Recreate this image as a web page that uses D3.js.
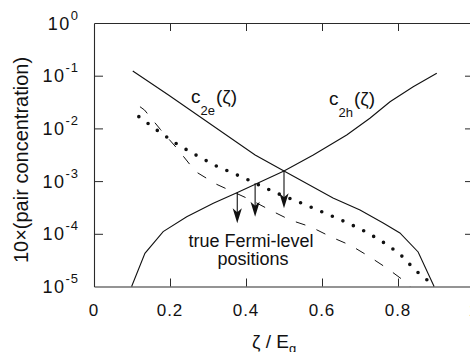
<!DOCTYPE html>
<html>
<head>
<meta charset="utf-8">
<script src="https://cdn.jsdelivr.net/npm/d3@7/dist/d3.min.js"></script>
<style>
  html, body { margin: 0; padding: 0; background: #fff; }
  svg { display: block; font-family: "Liberation Sans", Arial, Helvetica, sans-serif; }
</style>
</head>
<body>
<svg id="chart" width="470" height="352"></svg>
<script>
// ---- data ----
const xTickValues = [0, 0.2, 0.4, 0.6, 0.8, 1];
const xTickLabels = ["0", "0.2", "0.4", "0.6", "0.8", "1"];
const yTickValues = [1, 1e-1, 1e-2, 1e-3, 1e-4, 1e-5];
const yTickExponents = ["0", "-1", "-2", "-3", "-4", "-5"];

// c_2e(zeta)
const c2eZeta = [0.102, 0.196, 0.424, 0.500, 0.629, 0.700, 0.761, 0.805, 0.853, 0.895];
const c2eVal  = [1.23e-1, 4.3e-2, 3.13e-3, 1.55e-3, 4.78e-4, 2.83e-4, 1.6e-4, 1.04e-4, 4.52e-5, 1.0e-5];

// c_2h(zeta)
const c2hZeta = [0.099, 0.134, 0.182, 0.244, 0.314, 0.376, 0.500, 0.577, 0.665, 0.726, 0.779, 0.840, 0.902];
const c2hVal  = [1.0e-5, 4.27e-5, 1.1e-4, 2.11e-4, 3.79e-4, 6.03e-4, 1.55e-3, 3.13e-3, 7.5e-3, 1.56e-2, 3.21e-2, 6.18e-2, 1.11e-1];

// dotted curve
const dotZeta = [0.118, 0.169, 0.219, 0.268, 0.320, 0.397, 0.474, 0.547, 0.599, 0.650, 0.703, 0.753, 0.803, 0.847, 0.892];
const dotVal  = [1.67e-2, 8.9e-3, 4.99e-3, 3.13e-3, 1.96e-3, 1.13e-3, 6.2e-4, 3.79e-4, 2.62e-4, 1.83e-4, 1.22e-4, 7.6e-5, 4.27e-5, 2.0e-5, 1.07e-5];

// dashed curve
const dashZeta = [0.121, 0.133, 0.175, 0.220, 0.267, 0.321, 0.413, 0.463, 0.516, 0.571, 0.624, 0.676, 0.724, 0.772, 0.822, 0.832];
const dashVal  = [2.58e-2, 2.23e-2, 9.5e-3, 4.06e-3, 1.52e-3, 8.8e-4, 4.38e-4, 2.83e-4, 1.83e-4, 1.35e-4, 8.7e-5, 6.0e-5, 3.71e-5, 2.2e-5, 1.19e-5, 1.0e-5];

// "true Fermi-level positions" arrows
const arrowZeta = [0.377, 0.424, 0.500];
const arrowFrom = [6.03e-4, 9.1e-4, 1.55e-3];
const arrowTo   = [1.58e-4, 2.11e-4, 3.05e-4];

// ---- layout ----
const svg = d3.select("#chart");
const x = d3.scaleLinear().domain([0, 1]).range([94, 474]);
const y = d3.scaleLog().domain([1e-5, 1]).range([286.5, 23]);

const frameColor = "#2a2a2a";
const ink = "#111";

// axes (ticks inward)
const gB = svg.append("g").attr("transform", `translate(0,${y(1e-5)})`)
  .call(d3.axisBottom(x).tickValues([0.2, 0.4, 0.6, 0.8]).tickSizeInner(-8).tickSizeOuter(0).tickFormat(""));
const gT = svg.append("g").attr("transform", `translate(0,${y(1)})`)
  .call(d3.axisTop(x).tickValues([0.2, 0.4, 0.6, 0.8]).tickSizeInner(-8).tickSizeOuter(0).tickFormat(""));
const gL = svg.append("g").attr("transform", `translate(${x(0)},0)`)
  .call(d3.axisLeft(y).tickValues([1e-1, 1e-2, 1e-3, 1e-4]).tickSizeInner(-9).tickSizeOuter(0).tickFormat(""));
const gR = svg.append("g").attr("transform", `translate(${x(1)},0)`)
  .call(d3.axisRight(y).tickValues([1e-1, 1e-2, 1e-3, 1e-4]).tickSizeInner(-9).tickSizeOuter(0).tickFormat(""));
[gB, gT, gL, gR].forEach(g => {
  g.selectAll("path.domain").attr("stroke", frameColor).attr("stroke-width", 1.1);
  g.selectAll(".tick line").attr("stroke", frameColor).attr("stroke-width", 1);
});

// x tick labels
svg.append("g").selectAll("text").data(xTickValues).join("text")
  .attr("x", d => x(d))
  .attr("y", 316)
  .attr("text-anchor", "middle")
  .attr("font-size", 17)
  .attr("letter-spacing", 1)
  .attr("fill", ink)
  .text((d, i) => xTickLabels[i]);

// y tick labels: 10^n
const yl = svg.append("g").selectAll("text").data(yTickValues).join("text")
  .attr("x", 79)
  .attr("y", d => y(d) + 6.5)
  .attr("text-anchor", "end")
  .attr("fill", ink);
yl.append("tspan").attr("font-size", 18).attr("letter-spacing", 1.5).text("10");
yl.append("tspan").attr("font-size", 13).attr("dy", -10).attr("letter-spacing", 1)
  .text((d, i) => yTickExponents[i]);

// axis titles
const xt = svg.append("text").attr("x", 252).attr("y", 348).attr("fill", ink).attr("font-size", 19);
xt.append("tspan").text("ζ / E");
xt.append("tspan").attr("font-size", 13).attr("dy", 5).text("g");

svg.append("text")
  .attr("transform", "translate(28,160) rotate(-90)")
  .attr("text-anchor", "middle")
  .attr("font-size", 20)
  .attr("fill", ink)
  .text("10×(pair concentration)");

// curves
const line = d3.line().x(d => x(d[0])).y(d => y(d[1])).curve(d3.curveLinear);
const zip = (a, b) => a.map((v, i) => [v, b[i]]);

svg.append("path").datum(zip(c2eZeta, c2eVal)).attr("d", line)
  .attr("fill", "none").attr("stroke", ink).attr("stroke-width", 1.1);
svg.append("path").datum(zip(c2hZeta, c2hVal)).attr("d", line)
  .attr("fill", "none").attr("stroke", ink).attr("stroke-width", 1.1);
svg.append("path").datum(zip(dashZeta, dashVal)).attr("d", line)
  .attr("fill", "none").attr("stroke", ink).attr("stroke-width", 1)
  .attr("stroke-dasharray", "10,12");
svg.append("path").datum(zip(dotZeta, dotVal)).attr("d", line)
  .attr("fill", "none").attr("stroke", ink).attr("stroke-width", 3.6)
  .attr("stroke-linecap", "round").attr("stroke-dasharray", "0,11.5");

// arrows
const arrows = svg.append("g").selectAll("g").data(arrowZeta).join("g");
arrows.append("line")
  .attr("x1", d => x(d)).attr("x2", d => x(d))
  .attr("y1", (d, i) => y(arrowFrom[i]))
  .attr("y2", (d, i) => y(arrowTo[i]) - 8)
  .attr("stroke", ink).attr("stroke-width", 1.1);
arrows.append("path")
  .attr("d", (d, i) => {
    const tx = x(d), ty = y(arrowTo[i]);
    return `M${tx},${ty} L${tx - 4.6},${ty - 15} L${tx},${ty - 11} L${tx + 4.6},${ty - 15} Z`;
  })
  .attr("fill", ink);

// annotations
const ann = svg.append("text").attr("fill", ink).attr("font-size", 18).attr("text-anchor", "middle");
ann.append("tspan").attr("x", 251).attr("y", 247).text("true Fermi-level");
ann.append("tspan").attr("x", 253).attr("y", 265).text("positions");

function curveLabel(x0, base, sub) {
  const t = svg.append("text").attr("x", x0).attr("y", base).attr("fill", ink).attr("font-size", 19);
  t.append("tspan").text("c");
  t.append("tspan").attr("font-size", 13).attr("dy", 12).text(sub);
  t.append("tspan").attr("dy", -12).attr("dx", 1).text("(ζ)");
}
curveLabel(191, 103, "2e");
curveLabel(329, 105, "2h");
</script>
</body>
</html>
